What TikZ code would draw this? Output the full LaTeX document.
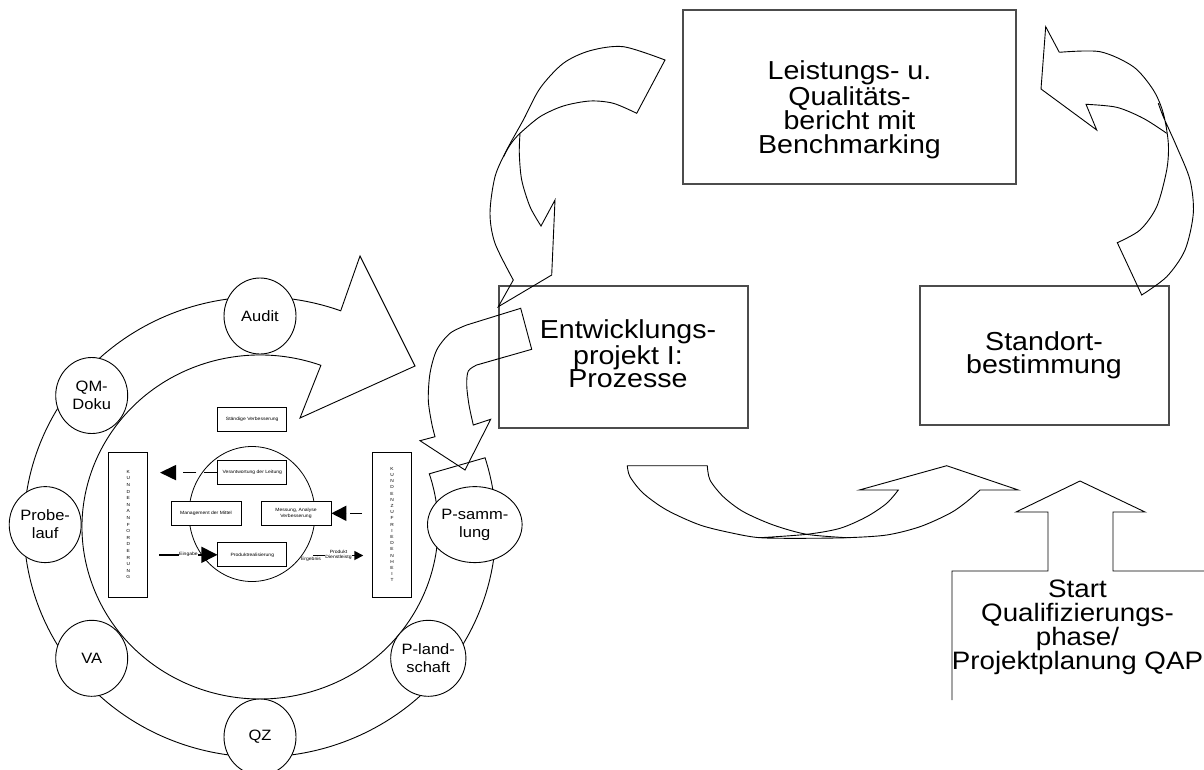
\documentclass[tikz,border=0pt]{standalone}
\usepackage{fontspec}
\setmainfont{Liberation Sans}[FakeStretch=1.1]
\usetikzlibrary{arrows.meta,shapes.geometric}
\begin{document}
\begin{tikzpicture}[x=1pt,y=-1pt,
  outline/.style={draw=black,line width=0.9pt,line join=miter},
  bigbox/.style={draw=black!70,line width=1.3pt,inner sep=0pt},
  bigtext/.style={font=\fontsize{26}{23.5}\selectfont,align=center,inner sep=0pt},
  station/.style={draw=black,line width=0.9pt,fill=white,ellipse,minimum width=72pt,
    minimum height=76pt,inner sep=0pt,align=center,font=\fontsize{15}{18}\selectfont},
  smallbox/.style={draw=black,line width=0.8pt,fill=white,minimum width=69pt,
    minimum height=24pt,inner sep=0pt,align=center,font=\fontsize{4.6}{5.5}\selectfont},
  tallbox/.style={draw=black,line width=0.8pt,fill=white,minimum width=39pt,
    minimum height=145pt,inner sep=0pt,align=center},
  tinytext/.style={font=\fontsize{4.6}{5.5}\selectfont,inner sep=0.5pt,align=center},
  flow/.style={line width=1.6pt},
]
\useasboundingbox (0,0) rectangle (1204,769);

% ---- three process boxes ----
\node[bigbox,minimum width=333pt,minimum height=174pt] (bericht) at (849.5,97) {};
\node[bigtext] (berichttext) at (849.5,110) {Leistungs- u.\\Qualitäts-\\bericht mit\\Benchmarking};
\node[bigbox,minimum width=249pt,minimum height=142pt] (entw) at (623.5,357) {};
\node[bigtext] (entwtext) at (628,354) {Entwicklungs-\\projekt I:\\Prozesse};
\node[bigbox,minimum width=249pt,minimum height=139pt] (standort) at (1044.5,355.5) {};
\node[bigtext] (standorttext) at (1044,355.5) {Standort-\\bestimmung};

% ---- start: callout with upward arrow ----
\draw[outline] (952,700) -- (952,571) -- (1048,571) -- (1048,512) -- (1016,512)
  -- (1080,481) -- (1145,512) -- (1113,512) -- (1113,571) -- (1210,571);
\node[bigtext,font=\fontsize{25.2}{24}\selectfont] (start) at (1077.5,627)
  {Start\\Qualifizierungs-\\phase/\\Projektplanung QAP};

% ---- curved arrow: report -> development project ----
\draw[outline] plot[smooth] coordinates {(665,60) (623.3,46.7) (590,50.7) (563.3,63.3)
    (540,88.3) (523.3,120) (506.7,150) (495,176.7) (490,213.3) (495,243.3) (513.3,280)}
  -- (498.3,306.7) -- (551.7,275) -- (555,200) -- (541,226)
  -- plot[smooth] coordinates {(541,226) (530,206.7) (521.7,180) (519.3,153.3) (520,133.3)}
  -- plot[smooth] coordinates {(520,133.3) (540,116.7) (563.3,106) (590,101) (613.3,103.3) (636.7,113.3)}
  -- cycle;
\draw[outline] (520,133.3) .. controls (513,140) and (508,147) .. (503.5,157);

% ---- curved arrow: location -> report ----
\draw[outline] (1059.3,52.3) -- (1045.7,26.7) -- (1041,89) -- (1096.7,130) -- (1086,104.3)
  -- plot[smooth] coordinates {(1086,104.3) (1116.7,107.3) (1143.3,118.3) (1166.7,133.3)};
\draw[outline] plot[smooth] coordinates {(1059.3,52.3) (1100,51.7) (1133.3,66.7) (1153.3,90)
    (1163.3,113.3) (1168.3,143.3) (1166.7,170) (1156.7,206.7) (1140,230) (1117.3,242.7)}
  -- (1141.7,295)
  -- plot[smooth] coordinates {(1141.7,295) (1166.7,276.7) (1185,250) (1193.3,213.3)
    (1190,180) (1176.7,146.7) (1163.3,116.7) (1158.3,103.3)};

% ---- curved arrow: development project -> location ----
\draw[outline] (707.3,465.7) -- (627.3,465.7)
  -- plot[smooth] coordinates {(627.3,465.7) (630,476.7) (643.3,493.3) (666.7,510) (700,525)
    (733.3,533.3) (760,537.7) (800,538.3) (846.7,537.7) (886.7,535) (920,526.7) (950,513.3)
    (966.7,501.7) (980,490)}
  -- (1018.3,490) -- (946.7,465.7) -- (859.3,490) -- (898.3,490)
  -- plot[smooth] coordinates {(898.3,490) (886.7,503.3) (866.7,516.7) (840,528.3) (806.7,534.3) (760,537.7)};
\draw[outline] plot[smooth] coordinates {(707.3,465.7) (710,480) (723.3,496.7) (743.3,511.7)
  (773.3,525) (806.7,534.3) (846.7,537.7)};

% ---- circular arrow of the QM cycle ----
\draw[outline] (340.7,310.8) arc[start angle=-70,end angle=-377.5,x radius=236,y radius=230]
  -- (429.3,473.8) arc[start angle=-378,end angle=-70,x radius=178,y radius=172]
  -- (300,418) -- (415,366) -- (360,256) -- cycle;

% ---- arrow: development project -> P-sammlung ----
\draw[outline] (531.7,349.3) -- (520.7,308.3) -- (466.7,325)
  -- plot[smooth] coordinates {(466.7,325) (450,333.3) (436.7,350) (430,373.3) (428.3,400)
    (431.7,423.3) (435,436.7)}
  -- (420,440.7) -- (465,470) -- (490.7,419.3) -- (473.3,425)
  -- plot[smooth] coordinates {(473.3,425) (469,405) (466.7,385) (468.3,371) (476.7,365)}
  -- cycle;

% ---- stations on the cycle ----
\node[station] (audit) at (260,316) {Audit};
\node[station] (qmdoku) at (91.7,395.5) {QM-\\Doku};
\node[station] (probelauf) at (45.2,524.6) {Probe-\\lauf};
\node[station] (va) at (91.7,658.3) {VA};
\node[station] (qz) at (260,737) {QZ};
\node[station] (pland) at (428.3,658.3) {P-land-\\schaft};
\node[station] (psamm) at (474.8,524.6) {P-samm-\\lung};

% ---- process model in the centre ----
\node[draw=black,line width=0.8pt,ellipse,minimum width=126pt,minimum height=135pt,inner sep=0pt] (core) at (252,514) {};
\node[smallbox] (staendig) at (252.2,419.2) {Ständige Verbesserung};
\node[smallbox] (verant) at (252.3,472.6) {Verantwortung der Leitung};
\node[smallbox,minimum width=70pt] (mittel) at (206,513.3) {Management der Mittel};
\node[smallbox,minimum width=70pt] (messung) at (296,513.3) {Messung, Analyse\\Verbesserung};
\node[smallbox] (produkt) at (252.3,554.8) {Produktrealisierung};

\node[tallbox,font=\fontsize{4.4}{6.6}\selectfont] (anford) at (128.3,524.6)
  {K\\U\\N\\D\\E\\N\\A\\N\\F\\O\\R\\D\\E\\R\\U\\N\\G};
\node[tallbox,font=\fontsize{4.4}{6.2}\selectfont] (zufried) at (392,524.6)
  {K\\U\\N\\D\\E\\N\\Z\\U\\F\\R\\I\\E\\D\\E\\N\\H\\E\\I\\T};

\coordinate (leftout) at (160,472.6);
\coordinate (zufin) at (362,513.3);
\coordinate (eingin) at (159,554.8);
\coordinate (ergin) at (313,555.5);
\coordinate (ergout) at (363.3,555.5);

\draw[flow,dash pattern=on 13pt off 8pt,-{Triangle[length=16pt,width=15pt]}] (verant.west) -- (leftout);
\draw[flow,dash pattern=on 12pt off 4pt,-{Triangle[length=15pt,width=15pt]}] (zufin) -- (messung.east);
\draw[flow,-{Triangle[length=16pt,width=16pt]}] (eingin) -- (produkt.west);
\node[tinytext,fill=white] (eingabe) at (188.5,554) {Eingabe};
\draw[flow,-{Triangle[length=9pt,width=9pt]}] (ergin) -- (ergout);
\node[tinytext] (ergebnis) at (311,559) {Ergebnis};
\node[tinytext,fill=white] (dienst) at (338.5,555) {Produkt\\Dienstleistg};
\end{tikzpicture}
\end{document}
